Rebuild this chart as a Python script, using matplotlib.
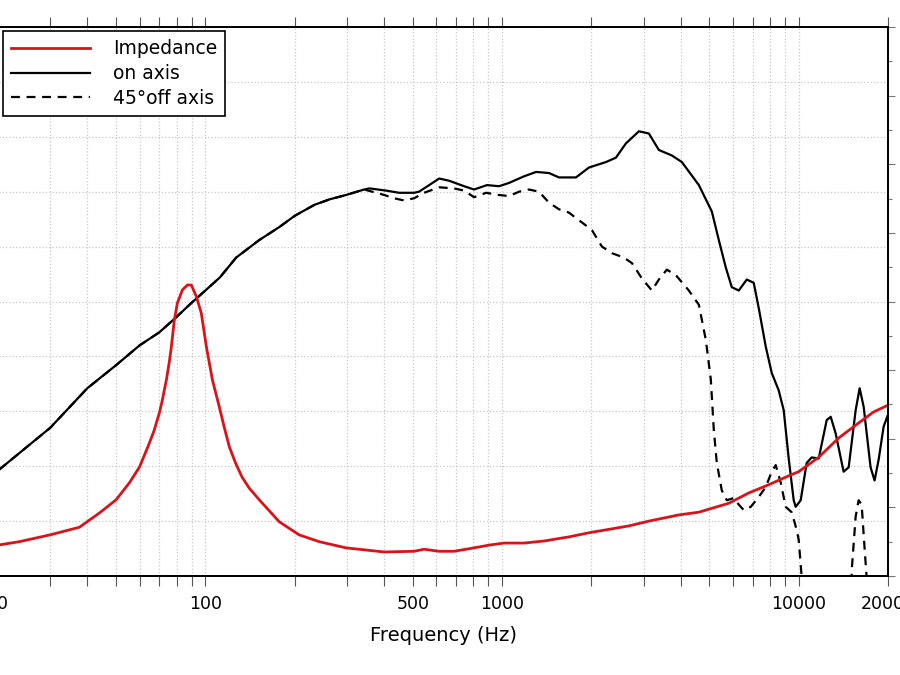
import matplotlib
matplotlib.use("Agg")
import matplotlib.pyplot as plt
from matplotlib.ticker import FixedLocator, NullFormatter, MultipleLocator

# --- data (frequency in Hz) ---
on_freq = [20, 30, 40, 50, 60, 70, 80, 90, 100, 112, 127, 152, 178, 200, 233, 262, 298, 343,
           357, 407, 450, 505, 525, 568, 614, 663, 745, 805, 890, 977, 1056, 1186, 1302, 1440,
           1556, 1775, 1963, 2240, 2420, 2616, 2893, 3126, 3378, 3736, 4038, 4608, 5095, 5379,
           5679, 5950, 6281, 6683, 7055, 7334, 7743, 8111, 8564, 8902, 9254, 9620, 9770, 10156,
           10640, 11060, 11680, 12430, 12820, 13320, 14170, 14740, 15560, 16050, 16560, 17470,
           18020, 18600, 19330, 20000]
on_db = [59.6, 63.5, 67.1, 69.2, 71.0, 72.2, 73.6, 74.9, 76.0, 77.2, 79.0, 80.6, 81.8, 82.8,
         83.8, 84.3, 84.7, 85.2, 85.3, 85.1, 84.9, 84.9, 85.0, 85.6, 86.2, 86.0, 85.5, 85.2,
         85.6, 85.5, 85.8, 86.4, 86.8, 86.7, 86.3, 86.3, 87.2, 87.7, 88.1, 89.4, 90.5, 90.3,
         88.8, 88.3, 87.7, 85.6, 83.2, 80.6, 78.1, 76.3, 76.0, 77.0, 76.7, 74.4, 70.9, 68.5,
         66.9, 65.1, 60.7, 56.9, 56.3, 56.9, 60.3, 60.8, 60.7, 64.2, 64.5, 63.0, 59.5, 59.9,
         65.1, 67.1, 65.4, 59.9, 58.7, 60.6, 63.6, 64.7]

# 45 deg off axis follows on-axis up to ~340 Hz
off_freq = on_freq[:18] + [401, 433, 468, 505, 546, 614, 689, 745, 805, 884, 977, 1056, 1141,
                           1233, 1332, 1440, 1556, 1681, 1775, 1860, 2009, 2172, 2347, 2575,
                           2740, 2961, 3200, 3378, 3594, 3854, 4263, 4608, 4864, 5056, 5174,
                           5296, 5505, 5723, 6042, 6281, 6530, 6893, 7334, 7743, 8111, 8367,
                           8698, 9041, 9472, 9846, 10000, 10235, 10600, 14900, 15090, 15560,
                           15920, 16300, 16690, 16940, 17300]
off_db = on_db[:18] + [84.7, 84.4, 84.2, 84.4, 84.9, 85.4, 85.3, 85.1, 84.5, 84.9, 84.7, 84.6,
                       85.0, 85.2, 85.0, 84.0, 83.4, 83.1, 82.6, 82.2, 81.5, 80.0, 79.4, 79.0,
                       78.5, 77.1, 76.0, 77.0, 77.9, 77.4, 76.0, 74.7, 71.5, 67.9, 63.3, 60.3,
                       57.8, 56.9, 57.1, 56.5, 56.0, 56.3, 57.2, 58.1, 59.5, 60.1, 58.5, 56.3,
                       55.8, 54.2, 53.3, 49.9, 40.0, 40.0, 50.5, 55.4, 56.9, 56.5, 52.4, 49.9,
                       40.0]

z_freq = [20, 23.6, 30, 37.6, 44, 50, 55.5, 60, 62.3, 64.8, 67.3, 70, 71.6, 73.9, 75.6, 76.8,
          78.6, 80.5, 83.7, 87, 89.7, 93.3, 96.9, 100.8, 105.6, 111.5, 115.9, 120.5, 126.3,
          133, 140.6, 152, 177.5, 207, 242, 298, 401, 505, 546, 614, 689, 805, 904, 1015, 1186,
          1385, 1681, 1963, 2293, 2677, 3126, 3945, 4608, 5813, 6786, 7925, 9254, 10000, 11680,
          13630, 15920, 17880, 20000]
z_ohm = [4.5, 5.0, 6.0, 7.1, 9.2, 11.1, 13.6, 15.9, 17.6, 19.4, 21.3, 23.8, 25.6, 28.6, 31.2,
         33.4, 37.3, 39.8, 41.7, 42.4, 42.4, 40.7, 38.3, 33.4, 28.6, 24.6, 21.6, 18.8, 16.5,
         14.4, 12.8, 11.1, 7.9, 6.0, 5.0, 4.1, 3.5, 3.6, 3.9, 3.6, 3.6, 4.1, 4.5, 4.8, 4.8, 5.1,
         5.7, 6.3, 6.8, 7.3, 8.0, 8.9, 9.3, 10.6, 12.1, 13.3, 14.6, 15.2, 17.3, 20.1, 22.3,
         23.9, 24.9]

x_major = [20, 100, 500, 1000, 10000, 20000]
x_labels = ["20", "100", "500", "1000", "10000", "20000"]

fig = plt.figure(figsize=(9, 6.75), dpi=100)
# the reference is a crop: left spine sits just outside the picture
ax = fig.add_axes([-2 / 900, 99 / 675, 890 / 900, 549 / 675])

ax.set_xscale("log")
ax.set_xlim(20, 20000)
ax.set_ylim(50, 100)
ax.yaxis.set_major_locator(MultipleLocator(5))

l_on, = ax.plot(on_freq, on_db, color="black", lw=1.6, label="on axis")
l_off, = ax.plot(off_freq, off_db, color="black", lw=1.6, linestyle=(0, (4, 3)),
                 label="45°off axis")

minor = [m * 10 ** e for e in range(1, 5) for m in range(2, 10)]
minor = [v for v in minor if 20 <= v <= 20000 and v not in x_major]
ax.xaxis.set_major_locator(FixedLocator(x_major))
ax.xaxis.set_minor_locator(FixedLocator(minor))
ax.set_xticklabels(x_labels)
ax.xaxis.set_minor_formatter(NullFormatter())
ax.tick_params(axis="x", which="both", direction="out", length=7, width=0.8,
               top=True, labelsize=12.5, pad=7, color="#555555")
ax.tick_params(axis="y", which="both", right=False, labelleft=False)
ax.grid(True, which="both", axis="x", linestyle=":", color="#c8c8c8", lw=0.9)
ax.grid(True, which="major", axis="y", linestyle=":", color="#c8c8c8", lw=0.9)
ax.set_xlabel("Frequency (Hz)", fontsize=14, labelpad=9)

ax2 = ax.twinx()
ax2.set_ylim(0, 80)
ax2.yaxis.set_major_locator(MultipleLocator(10))
ax2.yaxis.set_minor_locator(MultipleLocator(5))
ax2.tick_params(axis="y", which="major", direction="out", length=5, width=0.8,
                color="#777777", labelright=False)
ax2.tick_params(axis="y", which="minor", direction="out", length=3, width=0.8,
                color="#777777")
l_z, = ax2.plot(z_freq, z_ohm, color="#d8141a", lw=2.0, label="Impedance")

for a in (ax, ax2):
    for s in a.spines.values():
        s.set_linewidth(1.3)
        s.set_color("black")

leg = ax2.legend(handles=[l_z, l_on, l_off], loc="upper left",
                 bbox_to_anchor=(3 / 900, 1 - 31 / 675), bbox_transform=fig.transFigure,
                 borderaxespad=0, fontsize=13.5, handlelength=4.2, handletextpad=1.2,
                 labelspacing=0.3, borderpad=0.45, fancybox=False, framealpha=1)
leg.get_frame().set_edgecolor("black")
leg.get_frame().set_linewidth(1.2)

fig.savefig("out.png", dpi=100)
